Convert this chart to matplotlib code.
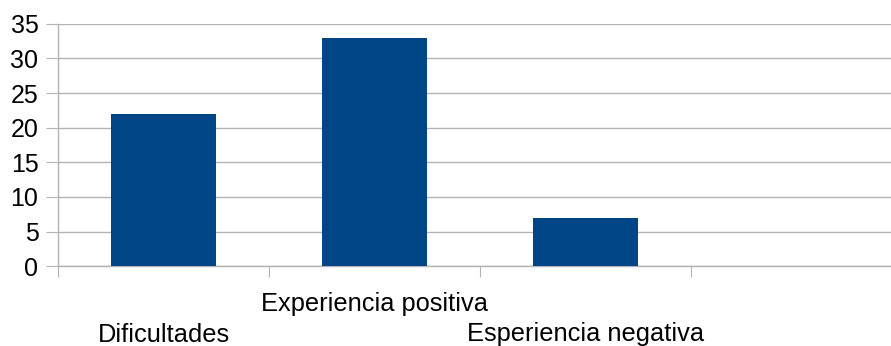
import matplotlib
matplotlib.use("Agg")
import matplotlib.pyplot as plt
import matplotlib.transforms as mtransforms

categories = ["Dificultades", "Experiencia positiva", "Esperiencia negativa", ""]
values = [22, 33, 7, None]
y_ticks = [0, 5, 10, 15, 20, 25, 30, 35]

BAR_COLOR = "#004586"
GRID_COLOR = "#b3b3b3"

plt.rcParams["font.family"] = ["Liberation Sans", "DejaVu Sans"]

fig = plt.figure(figsize=(8.91, 3.46), dpi=100)
# plot area: y=0 sits at 266 px, y=35 at 24 px; four category slots, last runs off the edge
ax = fig.add_axes([58 / 891, 79.7 / 346, 844 / 891, 242.6 / 346])

slots = range(len(categories))
for i, v in zip(slots, values):
    if v is not None:
        ax.bar(i + 0.5, v, width=0.5, color=BAR_COLOR, zorder=3)

ax.set_xlim(0, len(categories))
ax.set_ylim(0, 35)
ax.set_yticks(y_ticks)
ax.yaxis.grid(True, color=GRID_COLOR, linewidth=1.0, zorder=0)
ax.set_axisbelow(True)

ax.set_xticks(range(len(categories) + 1))
ax.set_xticklabels([])
ax.tick_params(axis="x", direction="out", length=8, width=0.8, color=GRID_COLOR)
ax.tick_params(axis="y", direction="out", length=8.6, width=0.8, color=GRID_COLOR,
               labelsize=18, pad=5.5, labelcolor="black")

for side in ("top", "right"):
    ax.spines[side].set_visible(False)
for side in ("left", "bottom"):
    ax.spines[side].set_color(GRID_COLOR)
    ax.spines[side].set_linewidth(1.0)

# staggered category labels below the axis
trans = mtransforms.blended_transform_factory(ax.transData, fig.transFigure)
for i, name in enumerate(categories):
    y = 35 / 346 if i % 2 else 4.5 / 346
    ax.text(i + 0.5, y, name, transform=trans, ha="center", va="baseline",
            fontsize=18.3, color="black")

fig.savefig("out.png", dpi=100)
